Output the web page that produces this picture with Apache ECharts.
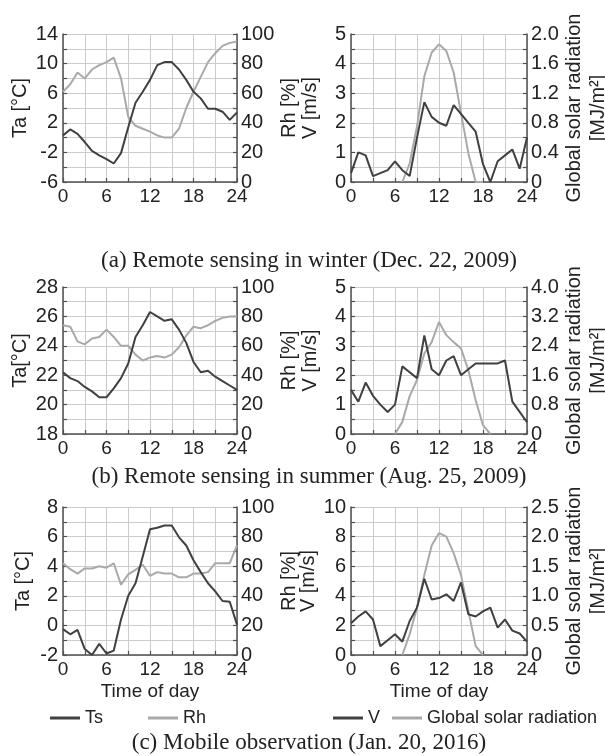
<!DOCTYPE html>
<html>
<head>
<meta charset="utf-8">
<script src="https://cdn.jsdelivr.net/npm/echarts@6/dist/echarts.min.js"></script>
<style>
html,body{margin:0;padding:0;background:#fff;}
#chart{width:605px;height:756px;}
</style>
</head>
<body>
<div id="chart"></div>
<script>
// Hour of day for every observation (0 - 24 h)
const hours = [0,1,2,3,4,5,6,7,8,9,10,11,12,13,14,15,16,17,18,19,20,21,22,23,24];

// (a) Remote sensing in winter (Dec. 22, 2009)
const tsWinter  = [0.3,1.1,0.5,-0.6,-1.8,-2.4,-2.9,-3.5,-2.1,1.4,4.7,6.2,7.8,9.8,10.2,10.2,9.2,7.8,6.2,5.3,3.9,3.9,3.5,2.4,3.4];
const rhWinter  = [61,66,74,70,76,79,81,84,70,44,38,36,34,31.5,30,30,36,50,61,71,81,87,92,94,95];
const vWinter   = [0.3,1.0,0.9,0.2,0.3,0.4,0.7,0.4,0.2,1.5,2.7,2.2,2.0,1.9,2.6,2.3,2.0,1.7,0.6,0,0.7,0.9,1.1,0.45,1.5];
const gsrWinter = [null,null,null,null,null,null,null,0,0.25,0.75,1.43,1.75,1.86,1.77,1.48,0.93,0.39,0,0,null,null,null,null,null,null];

// (b) Remote sensing in summer (Aug. 25, 2009)
const tsSummer  = [22.2,21.8,21.6,21.2,20.9,20.5,20.5,21.1,21.8,22.8,24.6,25.4,26.3,26.0,25.7,25.8,25.1,24.2,22.9,22.2,22.3,21.9,21.6,21.3,21.0];
const rhSummer  = [74,73,63,61,65,66,71,66,60,60,54,50,52,53,52,54,59,67,73,72,74,77,79,80,80];
const vSummer   = [1.5,1.1,1.75,1.3,1.0,0.75,1.0,2.3,2.1,1.9,3.35,2.2,2.0,2.5,2.65,2.0,2.2,2.4,2.4,2.4,2.4,2.5,1.1,0.75,0.4];
const gsrSummer = [null,null,null,null,null,null,0,0.33,1.03,1.47,2.19,2.5,3.05,2.69,2.5,2.33,1.74,0.92,0.24,0,null,null,null,null,null];

// (c) Mobile observation (Jan. 20, 2016)
const tsMobile  = [-0.25,-0.6,-0.3,-1.6,-2.0,-1.25,-1.9,-1.7,0.4,2.0,2.85,4.65,6.5,6.6,6.75,6.75,5.95,5.4,4.4,3.6,2.85,2.3,1.65,1.6,0.05];
const rhMobile  = [62,58,55,58.5,58.5,60,59,62,47.5,54.5,57.5,61,53.5,56,55,55,52.5,52.5,55,55,56,62,62,62,74];
const vMobile   = [2.15,2.6,2.95,2.4,0.6,1.0,1.4,0.9,2.3,3.2,5.15,3.75,3.85,4.1,3.65,4.9,2.75,2.6,2.95,3.2,1.85,2.4,1.65,1.45,0.9];
const gsrMobile = [null,null,null,null,null,null,null,0,0.35,0.8,1.35,1.85,2.06,2.0,1.72,1.35,0.75,0.15,0,null,null,null,null,null,null];

const DARK = '#404040';
const LIGHT = '#a9a9a9';
const GRID = '#cccccc';
const AXIS = '#505050';
const TEXT = '#222222';
const SANS = '"Liberation Sans", Arial, sans-serif';
const SERIF = '"Liberation Serif", "Times New Roman", serif';

const chart = echarts.init(document.getElementById('chart'));

// Fixed plot rectangles; the outer labels must not shrink them
const grids = [
  {left: 63,  top: 34,  width: 174, height: 148},
  {left: 351, top: 34,  width: 176, height: 148},
  {left: 63,  top: 287, width: 174, height: 147},
  {left: 351, top: 287, width: 176, height: 147},
  {left: 63,  top: 507, width: 174, height: 148},
  {left: 351, top: 507, width: 176, height: 148}
].map(g => Object.assign({outerBoundsMode: 'none', containLabel: false}, g));

const tickStyle = {color: AXIS, width: 1.2};
const gridStyle = {color: GRID, width: 1};

// Hours 0-24: labels every 6 h, minor gridlines every 3 h
function xAxis(gridIndex, withName) {
  return {
    type: 'value', gridIndex, min: 0, max: 24, interval: 6,
    axisLine: {show: true, onZero: false, lineStyle: {color: AXIS, width: 1.5}},
    axisTick: {show: true, inside: true, length: 4, lineStyle: tickStyle},
    minorTick: {show: true, splitNumber: 2, length: 4, lineStyle: tickStyle},
    splitLine: {show: true, lineStyle: gridStyle},
    minorSplitLine: {show: true, lineStyle: gridStyle},
    axisLabel: {margin: 5, color: TEXT, fontSize: 19, fontFamily: SANS},
    name: withName ? 'Time of day' : '',
    nameLocation: 'middle', nameGap: 27,
    nameTextStyle: {color: TEXT, fontSize: 19, fontFamily: SANS}
  };
}

// Labelled every `step`, with one minor tick / gridline in between
function yAxis(gridIndex, position, min, max, step, fmt, name, nameGap, primary, lineHeight) {
  return {
    type: 'value', gridIndex, position, min, max, interval: step,
    axisLine: {show: true, onZero: false, lineStyle: {color: AXIS, width: 1.5}},
    axisTick: {show: true, inside: true, length: 4, lineStyle: tickStyle},
    minorTick: {show: true, splitNumber: 2, length: 4, lineStyle: tickStyle},
    splitLine: {show: primary, lineStyle: gridStyle},
    minorSplitLine: {show: primary, lineStyle: gridStyle},
    axisLabel: {
      margin: position === 'left' ? 5 : 4, color: TEXT, fontSize: 20, fontFamily: SANS,
      formatter: fmt
    },
    name, nameLocation: 'middle', nameGap, nameRotate: 90,
    nameTextStyle: {color: TEXT, fontSize: 20, fontFamily: SANS, lineHeight: lineHeight || 22}
  };
}

const intFmt = v => String(Math.round(v));
const decFmt = v => Math.abs(v) < 1e-9 ? '0' : v.toFixed(1);
const GSR_NAME = 'Global solar radiation\n[MJ/m²]';

const yAxes = [
  yAxis(0, 'left', -6, 14, 4, intFmt, 'Ta [°C]', 29, true),
  yAxis(0, 'right', 0, 100, 20, intFmt, 'Rh [%]', 39, false),
  yAxis(1, 'left', 0, 5, 1, intFmt, 'V [m/s]', 30, true),
  yAxis(1, 'right', 0, 2, 0.4, decFmt, GSR_NAME, 30, false, 24),
  yAxis(2, 'left', 18, 28, 2, intFmt, 'Ta[°C]', 29, true),
  yAxis(2, 'right', 0, 100, 20, intFmt, 'Rh [%]', 39, false),
  yAxis(3, 'left', 0, 5, 1, intFmt, 'V [m/s]', 30, true),
  yAxis(3, 'right', 0, 4, 0.8, decFmt, GSR_NAME, 30, false, 24),
  yAxis(4, 'left', -2, 8, 2, intFmt, 'Ta [°C]', 29, true),
  yAxis(4, 'right', 0, 100, 20, intFmt, 'Rh [%]', 39, false),
  yAxis(5, 'left', 0, 10, 2, intFmt, 'V [m/s]', 30, true),
  yAxis(5, 'right', 0, 2.5, 0.5, decFmt, GSR_NAME, 30, false, 24)
];

function pairs(values) {
  return hours.map((h, i) => [h, values[i]]);
}

function line(name, values, xi, yi, color) {
  return {
    name, type: 'line', xAxisIndex: xi, yAxisIndex: yi,
    data: pairs(values), showSymbol: false, symbol: 'none',
    connectNulls: false,
    lineStyle: {color, width: 2},
    itemStyle: {color}
  };
}

const series = [
  line('Rh', rhWinter, 0, 1, LIGHT),
  line('Ts', tsWinter, 0, 0, DARK),
  line('Global solar radiation', gsrWinter, 1, 3, LIGHT),
  line('V', vWinter, 1, 2, DARK),
  line('Rh', rhSummer, 2, 5, LIGHT),
  line('Ts', tsSummer, 2, 4, DARK),
  line('Global solar radiation', gsrSummer, 3, 7, LIGHT),
  line('V', vSummer, 3, 6, DARK),
  line('Rh', rhMobile, 4, 9, LIGHT),
  line('Ts', tsMobile, 4, 8, DARK),
  line('Global solar radiation', gsrMobile, 5, 11, LIGHT),
  line('V', vMobile, 5, 10, DARK)
];

const legendText = {color: TEXT, fontSize: 18, fontFamily: SANS};
const legendBase = {
  orient: 'horizontal', top: 709, icon: 'rect', itemWidth: 30, itemHeight: 3,
  padding: 0, width: 300, textStyle: legendText, selectedMode: false
};
const caption = (text, y) => ({
  type: 'text', x: 309, y,
  style: {text, fill: TEXT, font: '23px ' + SERIF, textAlign: 'center', textVerticalAlign: 'middle'}
});

chart.setOption({
  animation: false,
  grid: grids,
  xAxis: [xAxis(0), xAxis(1), xAxis(2), xAxis(3), xAxis(4, true), xAxis(5, true)],
  yAxis: yAxes,
  legend: [
    Object.assign({}, legendBase, {data: ['Ts', 'Rh'], left: 50, itemGap: 45}),
    Object.assign({}, legendBase, {data: ['V', 'Global solar radiation'], left: 333, itemGap: 12})
  ],
  graphic: [
    caption('(a) Remote sensing in winter (Dec. 22, 2009)', 261),
    caption('(b) Remote sensing in summer (Aug. 25, 2009)', 477),
    caption('(c) Mobile observation (Jan. 20, 2016)', 743)
  ],
  series
});
</script>
</body>
</html>
